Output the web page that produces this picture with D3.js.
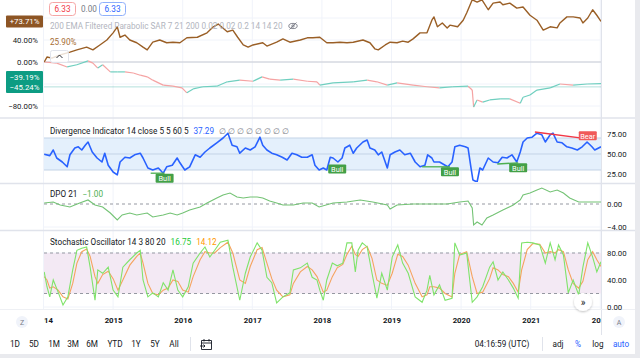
<!DOCTYPE html>
<html><head><meta charset="utf-8">
<script src="https://cdn.jsdelivr.net/npm/d3@7/dist/d3.min.js"></script>
<style>
html,body{margin:0;padding:0;background:#fff;overflow:hidden}
text{font-family:Roboto,"Liberation Sans",sans-serif}
</style></head>
<body><svg id="c" width="640" height="358"></svg>
<script>
// ---------------- DATA ----------------
const years = [2014,2015,2016,2017,2018,2019,2020,2021,2022];
const pctGrid = [80,40,0,-40,-80];
const pctTicks = [40,0,-80];
const divTicks = [75,50,25];
const dpoTicks = [0,-4];
const stoTicks = [80,40,0];

// comparison symbol (brown line), % change
const compT = [2014.01,2014.05,2014.12,2014.24,2014.38,2014.48,2014.62,2014.71,2014.81,2014.91,2015.00,2015.06,2015.10,2015.17,2015.24,2015.34,2015.43,2015.49,2015.57,2015.67,2015.77,2015.86,2015.96,2016.06,2016.21,2016.35,2016.44,2016.51,2016.64,2016.72,2016.79,2016.87,2016.94,2017.01,2017.15,2017.21,2017.35,2017.44,2017.54,2017.69,2017.79,2017.87,2017.97,2018.07,2018.16,2018.26,2018.36,2018.45,2018.59,2018.69,2018.76,2018.81,2018.91,2018.98,2019.08,2019.16,2019.24,2019.31,2019.41,2019.51,2019.58,2019.61,2019.66,2019.73,2019.80,2019.84,2019.95,2020.03,2020.08,2020.13,2020.16,2020.23,2020.30,2020.39,2020.46,2020.56,2020.60,2020.70,2020.80,2020.89,2020.99,2021.09,2021.18,2021.28,2021.38,2021.42,2021.52,2021.61,2021.71,2021.75,2021.82,2021.89,2021.95,2022.01];
const compV = [0,9,7,13,18,22,27,22,31,40,53,64,45,49,40,35,27,22,36,40,35,36,35,44,45,53,64,69,55,58,45,31,27,31,35,29,36,42,36,40,44,44,45,35,35,36,35,36,40,35,24,22,31,36,35,38,36,42,53,53,76,82,64,71,62,67,64,76,89,104,113,109,113,95,107,109,104,107,98,100,85,76,58,64,62,71,82,82,80,71,80,95,85,73.71];

// main symbol (candles), % change of close
const mainT = [2014.01,2014.19,2014.34,2014.48,2014.64,2014.71,2014.78,2014.85,2014.96,2015.06,2015.17,2015.29,2015.39,2015.49,2015.57,2015.72,2015.86,2015.99,2016.06,2016.15,2016.29,2016.49,2016.64,2016.82,2017.01,2017.14,2017.25,2017.40,2017.59,2017.79,2017.93,2017.97,2018.16,2018.45,2018.65,2018.79,2018.94,2019.08,2019.31,2019.51,2019.69,2019.88,2020.10,2020.16,2020.18,2020.23,2020.31,2020.41,2020.56,2020.70,2020.85,2020.89,2020.99,2021.09,2021.28,2021.42,2021.61,2021.81,2022.01];
const mainV = [0,-2,-9,-5,2,-2,-11,-5,-18,-18,-18,-20,-24,-27,-33,-42,-44,-47,-56,-49,-45,-44,-36,-33,-35,-27,-31,-33,-31,-35,-36,-42,-38,-36,-33,-36,-42,-38,-42,-45,-47,-45,-44,-51,-82,-69,-73,-69,-67,-67,-75,-64,-60,-51,-47,-40,-42,-40,-39.19];
const lastPct = [73.71, -39.19, -45.24];

// Divergence indicator
const divT = [2014.01,2014.09,2014.14,2014.19,2014.27,2014.34,2014.38,2014.45,2014.50,2014.55,2014.60,2014.64,2014.70,2014.77,2014.84,2014.88,2014.93,2015.00,2015.06,2015.10,2015.17,2015.24,2015.31,2015.39,2015.43,2015.50,2015.57,2015.65,2015.72,2015.77,2015.85,2015.92,2015.96,2016.03,2016.10,2016.18,2016.25,2016.32,2016.39,2016.49,2016.58,2016.65,2016.71,2016.78,2016.82,2016.90,2016.97,2017.04,2017.11,2017.15,2017.21,2017.28,2017.35,2017.43,2017.50,2017.57,2017.64,2017.71,2017.79,2017.86,2017.90,2017.96,2018.02,2018.07,2018.12,2018.16,2018.23,2018.29,2018.33,2018.40,2018.45,2018.50,2018.59,2018.65,2018.69,2018.76,2018.81,2018.86,2018.94,2018.98,2019.05,2019.12,2019.19,2019.27,2019.34,2019.41,2019.48,2019.52,2019.58,2019.61,2019.69,2019.77,2019.81,2019.87,2019.91,2019.98,2020.06,2020.10,2020.14,2020.17,2020.23,2020.27,2020.31,2020.39,2020.46,2020.53,2020.59,2020.66,2020.73,2020.80,2020.85,2020.89,2020.95,2021.02,2021.09,2021.16,2021.21,2021.28,2021.32,2021.38,2021.45,2021.52,2021.59,2021.67,2021.74,2021.81,2021.88,2021.92,2022.01];
const divV = [49.6,48,55,45,40,34,49,57.5,59,55,61,65,52.5,45,40,51,36,27.5,24,40,46,45,49,51,45,32.5,30,32.5,26,34,36,45,39,30,34,49,46,52.5,57.5,64,70,76,61,59,51,57.5,55,59,71,61,55,51,49,46,42.5,51,49,46,46,49,36,30,32.5,30,46,45,40,45,57.5,61,51,57.5,65,67.5,57.5,55,49,52.5,32.5,49,52.5,55,49,51,40,34,36,49,45,40,40,36,34,40,59,61,59,57.5,34,17.5,15,32.5,30,45,40,39,46,45,49,40,52.5,65,70,71,76,74,65,74,76,65,64,59,57.5,55,59,65,59,55,59];
const divLegendValue = "37.29";
const sigType = ["Bull","Bull","Bull","Bull","Bear"];
const sigT0 = [2015.54,2018.22,2019.44,2020.52,2021.06];
const sigV0 = [26,37.5,34,37.5,77.5];
const sigT1 = [2015.74,2018.22,2019.84,2020.82,2021.82];
const sigV1 = [26,37.5,34,39,69];

// DPO
const dpoT = [2014.01,2014.14,2014.24,2014.38,2014.52,2014.64,2014.74,2014.85,2014.96,2015.06,2015.13,2015.24,2015.34,2015.49,2015.57,2015.72,2015.82,2015.92,2016.00,2016.10,2016.25,2016.35,2016.49,2016.58,2016.68,2016.78,2016.87,2016.97,2017.07,2017.15,2017.25,2017.35,2017.44,2017.59,2017.73,2017.86,2017.96,2018.16,2018.36,2018.55,2018.73,2018.94,2018.98,2019.08,2019.31,2019.55,2019.80,2019.98,2020.10,2020.16,2020.18,2020.23,2020.30,2020.37,2020.46,2020.60,2020.75,2020.85,2020.89,2020.99,2021.09,2021.16,2021.28,2021.38,2021.47,2021.56,2021.69,2021.81,2022.01];
const dpoV = [0.17,0.35,-0.17,-0.52,0.17,0.7,-0.17,-0.52,-1.57,-2.78,-1.91,-1.57,-1.91,-1.57,-2.26,-1.91,-1.57,-1.91,-1.57,-1.04,-0.52,0.17,1.04,1.57,1.91,1.22,1.04,1.22,1.22,1.04,0.52,0.17,-0.17,-0.17,0.17,0.17,-0.52,0.17,0.35,0.7,0.35,-0.17,-0.87,-0.17,0,0,0,0.35,0.52,-0.7,-3.65,-3.13,-3.65,-2.43,-1.91,-1.04,-0.17,0.7,1.57,1.91,2.43,2.78,2.09,2.43,1.91,1.04,0.35,0.35,0.35];

// Stochastic
const stoT = [2014.01,2014.05,2014.09,2014.14,2014.21,2014.28,2014.35,2014.42,2014.48,2014.55,2014.62,2014.67,2014.74,2014.78,2014.85,2014.93,2015.00,2015.07,2015.14,2015.24,2015.34,2015.39,2015.43,2015.50,2015.57,2015.65,2015.72,2015.79,2015.86,2015.93,2016.00,2016.08,2016.15,2016.25,2016.32,2016.39,2016.46,2016.54,2016.65,2016.72,2016.82,2016.90,2016.97,2017.07,2017.14,2017.21,2017.28,2017.35,2017.44,2017.54,2017.59,2017.69,2017.79,2017.86,2017.93,2017.97,2018.02,2018.07,2018.15,2018.22,2018.30,2018.36,2018.43,2018.48,2018.52,2018.58,2018.65,2018.72,2018.79,2018.86,2018.94,2019.01,2019.09,2019.16,2019.24,2019.34,2019.44,2019.51,2019.55,2019.61,2019.69,2019.77,2019.87,2019.91,2019.98,2020.08,2020.16,2020.23,2020.31,2020.41,2020.46,2020.53,2020.60,2020.68,2020.75,2020.82,2020.87,2020.95,2021.03,2021.13,2021.21,2021.28,2021.35,2021.40,2021.47,2021.54,2021.61,2021.69,2021.75,2021.82,2021.89,2021.95,2022.01];
const stoK = [52,30,15,40,22,3,15,55,84,87,89,59,10,55,50,59,25,15,59,70,80,84,40,15,21,15,36,25,55,25,15,30,65,80,89,74,84,96,99,59,10,50,74,95,84,44,36,6,15,21,55,58,65,44,40,25,10,40,65,61,65,95,95,52,84,95,89,50,13,50,25,74,92,65,50,15,7,25,47,18,33,10,13,95,77,80,7,15,30,59,67,40,52,40,28,13,95,96,95,92,65,95,70,92,77,21,40,18,59,95,74,52,67];
const stoD = [45,40,28,30,25,15,12,35,65,82,86,75,45,35,48,53,42,25,40,62,75,80,65,35,20,18,25,28,40,38,25,22,45,70,82,80,80,88,96,80,40,35,60,85,88,65,42,25,15,18,35,52,60,55,45,35,22,25,45,58,63,78,90,78,75,85,90,72,40,35,32,50,78,75,62,35,15,18,30,30,28,20,15,50,78,82,45,20,22,42,58,55,48,45,35,22,55,85,94,93,80,82,80,85,82,55,35,28,38,70,82,70,60];
const stoLegend = ["16.75","14.12"];

// ---------------- DRAW ----------------
const svg = d3.select("#c");
const F = 'Roboto,"Liberation Sans",sans-serif';
const FS = 8.2;
const L = 44, R = 601;
const x = d3.scaleLinear().domain([2014, 2022]).range([43.5, 600.3]);
const yP = d3.scaleLinear().domain([-80, 80]).range([106, 18]);
const yDiv = d3.scaleLinear().domain([25, 75]).range([174, 134]);
const yDpo = d3.scaleLinear().domain([-4, 0]).range([227, 204]);
const ySto = d3.scaleLinear().domain([0, 80]).range([307, 253]);

const panes = [[0,117],[119,182],[185,229],[232,309]];
const defs = svg.append("defs");
panes.forEach((p,i)=>{
  defs.append("clipPath").attr("id","cp"+i).append("rect")
    .attr("x",L).attr("y",p[0]).attr("width",R-L).attr("height",p[1]-p[0]);
});
defs.append("clipPath").attr("id","cpx").append("rect").attr("x",L).attr("y",310).attr("width",R-L).attr("height",25);
const flt = defs.append("filter").attr("id","sh").attr("x","-50%").attr("y","-50%").attr("width","200%").attr("height","200%");
flt.append("feDropShadow").attr("dx",0).attr("dy",1).attr("stdDeviation",1.2).attr("flood-color","#000").attr("flood-opacity",0.25);

svg.append("rect").attr("width",640).attr("height",358).attr("fill","#fff");

// vertical grid
svg.append("g").selectAll("line").data(years).join("line")
  .attr("x1",d=>x(d)).attr("x2",d=>x(d)).attr("y1",0).attr("y2",309)
  .attr("stroke","#f0f3fa").attr("stroke-width",1);
// horizontal grid per pane
const hg = svg.append("g").attr("stroke","#f0f3fa");
pctGrid.forEach(v=>hg.append("line").attr("x1",L).attr("x2",R).attr("y1",yP(v)).attr("y2",yP(v)));
stoTicks.forEach(v=>hg.append("line").attr("x1",L).attr("x2",R).attr("y1",ySto(v)).attr("y2",ySto(v)));
hg.append("line").attr("x1",L).attr("x2",R).attr("y1",yDpo(-4)).attr("y2",yDpo(-4));

// pane separators & borders
const sepC = "#e0e3eb";
[118, 183.5, 230.5].forEach(yy=>svg.append("line").attr("x1",0).attr("x2",635).attr("y1",yy).attr("y2",yy).attr("stroke",sepC).attr("stroke-width",1.5));
svg.append("line").attr("x1",R+0.5).attr("x2",R+0.5).attr("y1",0).attr("y2",335).attr("stroke",sepC);
svg.append("line").attr("x1",0).attr("x2",635).attr("y1",309.5).attr("y2",309.5).attr("stroke","#eef0f4");
svg.append("rect").attr("x",635).attr("y",0).attr("width",5).attr("height",358).attr("fill","#e9eaee");
svg.append("rect").attr("x",0).attr("y",354).attr("width",640).attr("height",4).attr("fill","#e9eaee");

// ---------- Pane 1: price (% mode) ----------
const p1 = svg.append("g").attr("clip-path","url(#cp0)");
p1.append("line").attr("x1",L).attr("x2",R).attr("y1",yP(0)).attr("y2",yP(0)).attr("stroke","#c8cbd3");
p1.append("line").attr("x1",L).attr("x2",R).attr("y1",yP(lastPct[2])).attr("y2",yP(lastPct[2])).attr("stroke","#26a69a").attr("stroke-opacity",0.35);
const segs = d3.range(1, mainT.length).map(i=>({a:i-1,b:i}));
p1.append("g").selectAll("line").data(segs).join("line")
  .attr("x1",d=>x(mainT[d.a])).attr("y1",d=>yP(mainV[d.a]))
  .attr("x2",d=>x(mainT[d.b])).attr("y2",d=>yP(mainV[d.b]))
  .attr("stroke",d=>mainV[d.b]>=mainV[d.a]?"#6fcfbf":"#f5a3a3").attr("stroke-width",1.2);
const compLine = d3.line().x((d,i)=>x(compT[i])).y(d=>yP(d));
p1.append("path").attr("d",compLine(compV)).attr("fill","none").attr("stroke","#9a5f26").attr("stroke-width",1.4).attr("stroke-linejoin","round");

// left axis
const axL = svg.append("g").attr("transform",`translate(${L},0)`)
  .call(d3.axisLeft(yP).tickValues(pctTicks).tickSize(0).tickPadding(6).tickFormat(d=>(d<0?"−":"")+d3.format(".2f")(Math.abs(d))+"%"));
axL.select(".domain").remove();
axL.selectAll("text").attr("font-family",F).attr("font-size",7.8).attr("fill","#131722");
// badges
const bw = 37;
svg.append("rect").attr("x",6).attr("y",yP(lastPct[0])-6).attr("width",bw).attr("height",12).attr("fill","#8d5524").attr("rx",1);
svg.append("text").attr("x",24.5).attr("y",yP(lastPct[0])+2.8).attr("text-anchor","middle").attr("font-size",7.8).attr("fill","#fff").text("+"+d3.format(".2f")(lastPct[0])+"%");
svg.append("rect").attr("x",6).attr("y",71).attr("width",bw).attr("height",22).attr("fill","#0d9c83").attr("rx",1);
svg.append("text").attr("x",24.5).attr("y",79.8).attr("text-anchor","middle").attr("font-size",7.8).attr("fill","#fff").text("−"+d3.format(".2f")(-lastPct[1])+"%");
svg.append("text").attr("x",24.5).attr("y",90.3).attr("text-anchor","middle").attr("font-size",7.8).attr("fill","#fff").text("−"+d3.format(".2f")(-lastPct[2])+"%");

// legend pane 1
svg.append("rect").attr("x",49.5).attr("y",2.5).attr("width",26).attr("height",13).attr("rx",3).attr("fill","#fff").attr("stroke","#f5a6a6");
svg.append("text").attr("x",62.5).attr("y",12).attr("text-anchor","middle").attr("font-size",FS).attr("fill","#f23645").text("6.33");
svg.append("text").attr("x",81).attr("y",12).attr("font-size",FS).attr("fill","#787b86").text("0.00");
svg.append("rect").attr("x",99.5).attr("y",2.5).attr("width",26).attr("height",13).attr("rx",3).attr("fill","#fff").attr("stroke","#8fb0fb");
svg.append("text").attr("x",112.5).attr("y",12).attr("text-anchor","middle").attr("font-size",FS).attr("fill","#2962ff").text("6.33");
svg.append("text").attr("x",50).attr("y",29).attr("font-size",FS).attr("fill","#b2b5be").text("200 EMA Filtered Parabolic SAR 7 21 200 0.02 0.02 0.2 14 14 20");
const eye = svg.append("g").attr("transform","translate(293,26)").attr("fill","none").attr("stroke","#787b86").attr("stroke-width",0.9);
eye.append("ellipse").attr("rx",4.2).attr("ry",2.6);
eye.append("circle").attr("r",1.2);
eye.append("line").attr("x1",-3.5).attr("y1",3.5).attr("x2",3.5).attr("y2",-3.5);
svg.append("text").attr("x",50).attr("y",45).attr("font-size",FS).attr("fill","#a86d34").text("25.90%");
svg.append("rect").attr("x",50.5).attr("y",50.5).attr("width",18).attr("height",12).attr("rx",2).attr("fill","#fff").attr("fill-opacity",0.8).attr("stroke","#e0e3eb");
svg.append("path").attr("d","M56.5,58 L59.5,55 L62.5,58").attr("fill","none").attr("stroke","#131722").attr("stroke-width",0.9);

// ---------- Pane 2: divergence ----------
const p2 = svg.append("g").attr("clip-path","url(#cp1)");
p2.append("rect").attr("x",L).attr("width",R-L).attr("y",yDiv(70)).attr("height",yDiv(30)-yDiv(70)).attr("fill","#e4f0fc");
[70,50,30].forEach(v=>p2.append("line").attr("x1",L).attr("x2",R).attr("y1",yDiv(v)).attr("y2",yDiv(v)).attr("stroke","#c3d3e6"));
const divLine = d3.line().x((d,i)=>x(divT[i])).y(d=>yDiv(d));
p2.append("path").attr("d",divLine(divV)).attr("fill","none").attr("stroke","#2962ff").attr("stroke-width",1.6).attr("stroke-linejoin","round");
sigType.forEach((s,i)=>{
  const c = s==="Bull" ? "#4caf50" : "#f23645";
  if (sigT1[i] > sigT0[i]) p2.append("line").attr("x1",x(sigT0[i])).attr("y1",yDiv(sigV0[i])).attr("x2",x(sigT1[i])).attr("y2",yDiv(sigV1[i])).attr("stroke",c).attr("stroke-width",1.3);
});
const sg = svg.append("g");
sigType.forEach((s,i)=>{
  const bull = s==="Bull";
  const c = bull ? "#43a047" : "#f05a5a";
  const cx = x(sigT1[i]), cy = yDiv(sigV1[i]) + (bull ? 5 : -3);
  sg.append("rect").attr("x",cx-9).attr("y",cy-4.5).attr("width",18).attr("height",9).attr("rx",1).attr("fill",c);
  sg.append("text").attr("x",cx).attr("y",cy+2.7).attr("text-anchor","middle").attr("font-size",7.4).attr("fill","#fff").text(s);
});
const axD = svg.append("g").attr("transform",`translate(${R},0)`)
  .call(d3.axisRight(yDiv).tickValues(divTicks).tickSize(0).tickPadding(6).tickFormat(d3.format(".2f")));
axD.select(".domain").remove();
axD.selectAll("text").attr("font-family",F).attr("font-size",7.8).attr("fill","#131722");
const lg2 = svg.append("text").attr("x",50).attr("y",134).attr("font-size",FS);
lg2.append("tspan").attr("fill","#131722").text("Divergence Indicator 14 close 5 5 60 5");
lg2.append("tspan").attr("dx",5).attr("fill","#2962ff").text(divLegendValue);
lg2.append("tspan").attr("dx",5).attr("fill","#787b86").text("∅ ∅ ∅ ∅ ∅ ∅ ∅ ∅");

// ---------- Pane 3: DPO ----------
const p3 = svg.append("g").attr("clip-path","url(#cp2)");
p3.append("line").attr("x1",L).attr("x2",R).attr("y1",yDpo(0)).attr("y2",yDpo(0)).attr("stroke","#9598a1").attr("stroke-dasharray","3,3");
const dpoLine = d3.line().x((d,i)=>x(dpoT[i])).y(d=>yDpo(d));
p3.append("path").attr("d",dpoLine(dpoV)).attr("fill","none").attr("stroke","#74c375").attr("stroke-width",1.1);
const axP = svg.append("g").attr("transform",`translate(${R},0)`)
  .call(d3.axisRight(yDpo).tickValues(dpoTicks).tickSize(0).tickPadding(6).tickFormat(d=>(d<0?"−":"")+d3.format(".2f")(Math.abs(d))));
axP.select(".domain").remove();
axP.selectAll("text").attr("font-family",F).attr("font-size",7.8).attr("fill","#131722");
const lg3 = svg.append("text").attr("x",50).attr("y",197).attr("font-size",FS);
lg3.append("tspan").attr("fill","#131722").text("DPO 21");
lg3.append("tspan").attr("dx",5).attr("fill","#4caf50").text("−1.00");

// ---------- Pane 4: Stochastic ----------
const p4 = svg.append("g").attr("clip-path","url(#cp3)");
p4.append("rect").attr("x",L).attr("width",R-L).attr("y",ySto(80)).attr("height",ySto(20)-ySto(80)).attr("fill","#f3e9f4");
[80,20].forEach(v=>p4.append("line").attr("x1",L).attr("x2",R).attr("y1",ySto(v)).attr("y2",ySto(v)).attr("stroke","#9598a1").attr("stroke-dasharray","3,3"));
const kLine = d3.line().x((d,i)=>x(stoT[i])).y(d=>ySto(d));
p4.append("path").attr("d",kLine(stoD)).attr("fill","none").attr("stroke","#f5a35e").attr("stroke-width",1.1);
p4.append("path").attr("d",kLine(stoK)).attr("fill","none").attr("stroke","#7fe36a").attr("stroke-width",1.1);
const axS = svg.append("g").attr("transform",`translate(${R},0)`)
  .call(d3.axisRight(ySto).tickValues(stoTicks).tickSize(0).tickPadding(6).tickFormat(d3.format(".2f")));
axS.select(".domain").remove();
axS.selectAll("text").attr("font-family",F).attr("font-size",7.8).attr("fill","#131722");
const lg4 = svg.append("text").attr("x",50).attr("y",245).attr("font-size",FS);
lg4.append("tspan").attr("fill","#131722").text("Stochastic Oscillator 14 3 80 20");
lg4.append("tspan").attr("dx",5).attr("fill","#22c93a").text(stoLegend[0]);
lg4.append("tspan").attr("dx",5).attr("fill","#ff9800").text(stoLegend[1]);
svg.append("circle").attr("cx",583).attr("cy",302).attr("r",9).attr("fill","#fff").attr("filter","url(#sh)");
svg.append("text").attr("x",583).attr("y",305.5).attr("text-anchor","middle").attr("font-size",10).attr("fill","#131722").text("»");

// ---------- time axis ----------
const axWrap = svg.append("g").attr("clip-path","url(#cpx)");
const axT = axWrap.append("g").attr("transform","translate(0,318)")
  .call(d3.axisBottom(x).tickValues(years).tickSize(0).tickPadding(0).tickFormat(d3.format("d")));
axT.select(".domain").remove();
axT.selectAll("text").attr("font-family",F).attr("font-size",7.8).attr("font-weight","bold").attr("fill","#131722").attr("dy","0.6em");
[[22,"Z"],[619,"A"]].forEach(([cx,t])=>{
  svg.append("circle").attr("cx",cx).attr("cy",322).attr("r",6).attr("fill","#f0f3fa");
  svg.append("text").attr("x",cx).attr("y",324.7).attr("text-anchor","middle").attr("font-size",7).attr("fill","#787b86").text(t);
});

// ---------- bottom toolbar ----------
const ranges = ["1D","5D","1M","3M","6M","YTD","1Y","5Y","All"];
const rangeX = [15,34,54,73,92,115,136,155,174];
svg.append("g").selectAll("text").data(ranges).join("text")
  .attr("x",(d,i)=>rangeX[i]).attr("y",347).attr("text-anchor","middle").attr("font-size",FS).attr("fill","#131722").text(d=>d);
svg.append("line").attr("x1",190.5).attr("x2",190.5).attr("y1",337).attr("y2",351).attr("stroke","#e0e3eb");
const cal = svg.append("g").attr("fill","none").attr("stroke","#131722").attr("stroke-width",0.9);
cal.append("path").attr("d","M201.5,340.5 h10 v9 h-10 z M201.5,343 h10 M204,339 v2.5 M209,339 v2.5");
cal.append("path").attr("d","M200,346 h5 M203.5,344.5 l1.5,1.5 l-1.5,1.5");
svg.append("text").attr("x",502).attr("y",347).attr("text-anchor","middle").attr("font-size",FS).attr("fill","#131722").text("04:16:59 (UTC)");
svg.append("line").attr("x1",542.5).attr("x2",542.5).attr("y1",337).attr("y2",351).attr("stroke","#e0e3eb");
[["adj",558,"#131722"],["%",578,"#2962ff"],["log",598,"#131722"],["auto",621,"#2962ff"]].forEach(([t,xx,c])=>
  svg.append("text").attr("x",xx).attr("y",347).attr("text-anchor","middle").attr("font-size",FS).attr("fill",c).text(t));
</script></body></html>
